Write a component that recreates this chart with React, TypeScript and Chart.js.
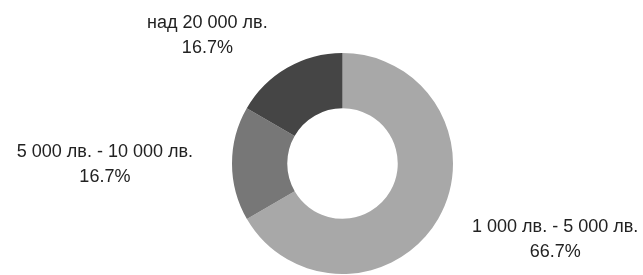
import React, { useEffect, useRef } from "react";
import { Chart, registerables } from "chart.js";

Chart.register(...registerables);

const categories = ["1 000 лв. - 5 000 лв.", "5 000 лв. - 10 000 лв.", "над 20 000 лв."];
const shares = [66.7, 16.7, 16.7];
const colors = ["#a8a8a8", "#777777", "#454545"];

const FONT = "18px 'Liberation Sans', Arial, sans-serif";
const LINE_H = 25;

const outsideLabels = {
  id: "outsideLabels",
  afterDatasetsDraw(chart: any) {
    const ctx = chart.ctx;
    const meta = chart.getDatasetMeta(0);
    ctx.save();
    ctx.font = FONT;
    ctx.fillStyle = "#222222";
    ctx.textBaseline = "middle";
    ctx.textAlign = "center";
    meta.data.forEach((arc: any, i: number) => {
      const { x, y, startAngle, endAngle, outerRadius } = arc.getProps(
        ["x", "y", "startAngle", "endAngle", "outerRadius"],
        true
      );
      const mid = (startAngle + endAngle) / 2;
      const lines = [categories[i], shares[i].toFixed(1) + "%"];
      const w = Math.max(...lines.map((l) => ctx.measureText(l).width));
      const h = LINE_H * lines.length;
      const r = outerRadius + 39;
      const c = Math.cos(mid);
      const s = Math.sin(mid);
      const ax = x + c * r;
      const ay = y + s * r;
      let cx = ax;
      let cy = ay;
      if (c > 0.38) cx = ax + w / 2;
      else if (c < -0.38) cx = ax - w / 2;
      else cy = ay + (s > 0 ? h / 2 : -h / 2);
      lines.forEach((l, j) => {
        ctx.fillText(l, cx, cy - h / 2 + LINE_H * (j + 0.5) + 1);
      });
    });
    ctx.restore();
  },
};

export default function App() {
  const ref = useRef<HTMLCanvasElement | null>(null);
  useEffect(() => {
    if (!ref.current) return;
    const chart = new Chart(ref.current, {
      type: "doughnut",
      data: {
        labels: categories,
        datasets: [
          {
            data: shares,
            backgroundColor: colors,
            borderWidth: 0,
          },
        ],
      },
      options: {
        responsive: false,
        animation: false,
        cutout: "50%",
        layout: { padding: { top: 53, bottom: 1, left: 142, right: 100 } },
        plugins: {
          legend: { display: false },
          tooltip: { enabled: false },
        },
      },
      plugins: [outsideLabels],
    });
    return () => chart.destroy();
  }, []);
  return (
    <div style={{ position: "absolute", left: 0, top: 0, width: 643, height: 275, background: "#fff" }}>
      <canvas ref={ref} width={643} height={275} />
    </div>
  );
}
